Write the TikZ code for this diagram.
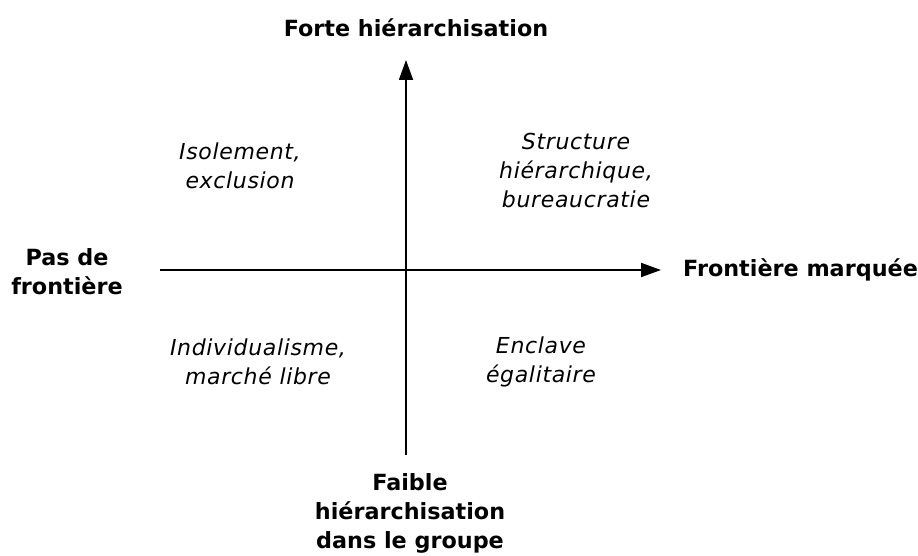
\documentclass[tikz,border=0pt]{standalone}
\usepackage{fontspec}
\setmainfont{DejaVu Sans}
\usetikzlibrary{arrows.meta}
\begin{document}
\begin{tikzpicture}[x=1pt,y=-1pt,
  axis/.style={line width=1.8pt,-{Triangle[length=20pt,width=14pt]}},
  lbl/.style={font=\fontsize{22.3}{29}\selectfont\bfseries,align=center,inner sep=0pt},
  quad/.style={font=\fontsize{22}{29}\selectfont\itshape\addfontfeature{LetterSpace=3},align=center,inner sep=0pt}]
\useasboundingbox (0,0) rectangle (918,556);
\coordinate (vb) at (406,455);
\coordinate (vt) at (406,60);
\coordinate (hl) at (160,270);
\coordinate (hr) at (661,270);
\draw[axis] (vb) -- (vt);
\draw[axis] (hl) -- (hr);
\node[lbl] (top) at (416,28) {Forte hiérarchisation};
\node[lbl] (bot) at (410,513) {Faible\\hiérarchisation\\dans le groupe};
\node[lbl] (left) at (67,272) {Pas de\\frontière};
\node[lbl,anchor=west] (right) at (683,270) {Frontière marquée};
\node[quad] (q1) at (240,166) {Isolement,\\exclusion};
\node[quad] (q2) at (576,170) {Structure\\hiérarchique,\\bureaucratie};
\node[quad] (q3) at (258,362) {Individualisme,\\marché libre};
\node[quad] (q4) at (541,362) {Enclave\\égalitaire};
\end{tikzpicture}
\end{document}
